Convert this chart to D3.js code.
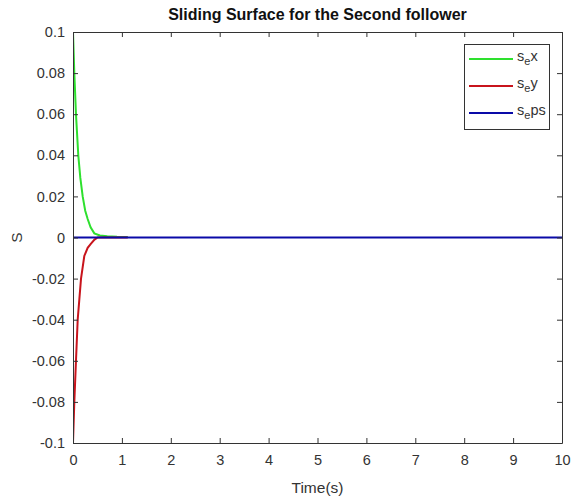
<!DOCTYPE html>
<html><head><meta charset="utf-8">
<script src="https://cdn.jsdelivr.net/npm/d3@7"></script>
<style>body{margin:0;background:#fff}svg{display:block;font-family:"Liberation Sans",Arial,sans-serif}</style>
</head><body><svg id="c" width="576" height="499"></svg>
<script>
const title = "Sliding Surface for the Second follower";
const xLabel = "Time(s)";
const yLabel = "S";
const xTicks = [0,1,2,3,4,5,6,7,8,9,10];
const yTicks = [-0.1,-0.08,-0.06,-0.04,-0.02,0,0.02,0.04,0.06,0.08,0.1];
const yTickLabels = ["-0.1","-0.08","-0.06","-0.04","-0.02","0","0.02","0.04","0.06","0.08","0.1"];
const seriesNames = ["x","y","ps"];
const seriesColors = ["#2ee02e","#c8141c","#0a0aa8"];
// s_e x
const tX = [0,0.027,0.061,0.108,0.15,0.198,0.25,0.30,0.36,0.436,0.55,0.7,0.9,1.12];
const sX = [0.1,0.08,0.06,0.04,0.029,0.02,0.013,0.009,0.005,0.002,0.001,0.0006,0.0004,0.0003];
// s_e y
const tY = [0,0.027,0.061,0.096,0.13,0.164,0.231,0.30,0.368,0.44,0.505,0.7,0.9,1.12];
const sY = [-0.1,-0.08,-0.06,-0.04,-0.03,-0.02,-0.009,-0.005,-0.003,-0.001,0,0,0,0];
// s_e ps
const tP = [0,10];
const sP = [0,0];

const svg = d3.select("#c");
const L=73, R=562, T=32, B=443;
const x = d3.scaleLinear().domain([0,10]).range([L,R]);
const y = d3.scaleLinear().domain([-0.1,0.1]).range([B,T]);
const axisCol = "#333";
const FONT = "Liberation Sans, Arial, sans-serif";

const line = d3.line().x(d=>x(d[0])).y(d=>y(d[1]));
svg.append("clipPath").attr("id","cp").append("rect").attr("x",L).attr("y",T-2).attr("width",R-L).attr("height",B-T+4);
const g = svg.append("g").attr("clip-path","url(#cp)");
const data = [d3.zip(tX,sX), d3.zip(tY,sY), d3.zip(tP,sP)];
data.forEach((d,i)=>{
  g.append("path").datum(d).attr("d",line).attr("fill","none")
   .attr("stroke",seriesColors[i]).attr("stroke-width",2);
});

// axes
const fmt = v => yTickLabels[yTicks.indexOf(v)];
const styleAx = a=>{a.select(".domain").attr("stroke",axisCol);a.selectAll("line").attr("stroke",axisCol);a.selectAll("text").attr("font-size",14.5).attr("fill","#333").attr("font-family",FONT);};
svg.append("g").attr("transform",`translate(0,${B})`)
  .call(d3.axisBottom(x).tickValues(xTicks).tickSizeInner(-5).tickSizeOuter(0).tickPadding(12))
  .call(styleAx);
svg.append("g").attr("transform",`translate(0,${T})`)
  .call(d3.axisTop(x).tickValues(xTicks).tickSizeInner(-5).tickSizeOuter(0).tickFormat(""))
  .call(styleAx);
svg.append("g").attr("transform",`translate(${L},0)`)
  .call(d3.axisLeft(y).tickValues(yTicks).tickFormat(fmt).tickSizeInner(-5).tickSizeOuter(0).tickPadding(8))
  .call(styleAx);
svg.append("g").attr("transform",`translate(${R},0)`)
  .call(d3.axisRight(y).tickValues(yTicks).tickSizeInner(-5).tickSizeOuter(0).tickFormat(""))
  .call(styleAx);

// title & labels
svg.append("text").attr("x",(L+R)/2).attr("y",20).attr("text-anchor","middle")
  .attr("font-size",16).attr("font-weight","bold").attr("fill","#111").text(title);
svg.append("text").attr("x",(L+R)/2).attr("y",493).attr("text-anchor","middle")
  .attr("font-size",15.5).attr("fill","#333").text(xLabel);
svg.append("text").attr("transform",`translate(22,${(T+B)/2}) rotate(-90)`).attr("text-anchor","middle")
  .attr("font-size",15.5).attr("fill","#333").text(yLabel);

// legend
const lg = svg.append("g");
lg.append("rect").attr("x",464.5).attr("y",44.5).attr("width",85).attr("height",85)
  .attr("fill","#fff").attr("stroke","#333").attr("stroke-width",1);
seriesNames.forEach((n,i)=>{
  const yy = 59 + i*27;
  lg.append("line").attr("x1",469).attr("x2",513).attr("y1",yy).attr("y2",yy)
    .attr("stroke",seriesColors[i]).attr("stroke-width",2);
  const t = lg.append("text").attr("x",517).attr("y",yy+2).attr("font-size",14.5).attr("fill","#333").attr("font-family",FONT);
  t.append("tspan").text("s");
  t.append("tspan").attr("font-size",11).attr("dy",4).text("e");
  t.append("tspan").attr("dy",-4).text(n);
});
</script></body></html>
